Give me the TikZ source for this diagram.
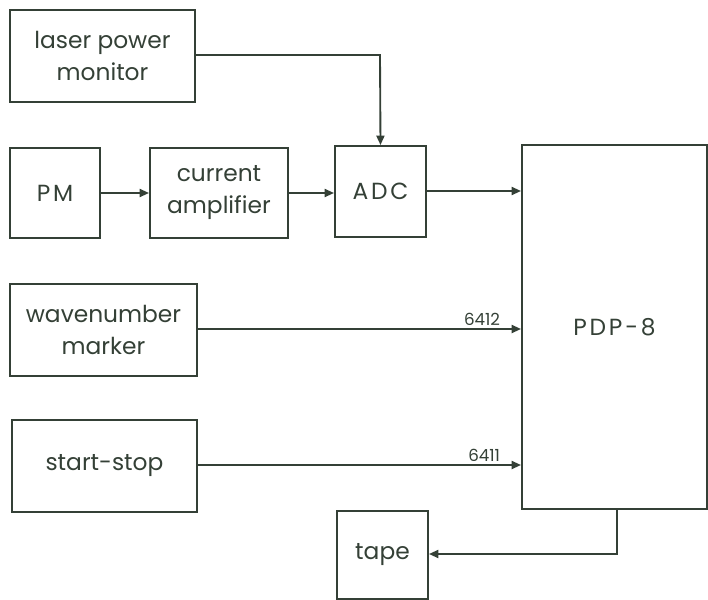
\documentclass[tikz,border=0pt]{standalone}
\usepackage{fontspec}
\setmainfont{Poppins}
\newfontfamily\spaced[LetterSpace=12]{Poppins}
\usetikzlibrary{arrows.meta}
\definecolor{ink}{RGB}{52,64,54}
\begin{document}
\begin{tikzpicture}[x=0.75pt,y=-0.75pt,
  blk/.style={draw=ink,line width=1.5pt,inner sep=0pt,align=center,text=ink,
    font=\fontsize{17.5}{24}\selectfont},
  con/.style={draw=ink,line width=1.4pt,-{Triangle[length=7pt,width=6pt]}},
  lbl/.style={text=ink,font=\fontsize{12.5}{14}\selectfont,inner sep=1pt}]
\useasboundingbox (0,0) rectangle (708,600);
\node[blk,minimum width=138.75pt,minimum height=69pt] (laser) at (102.5,56) {laser power\\monitor};
\node[blk,minimum width=67.5pt,minimum height=67.5pt] (pm) at (55,193) {\spaced PM};
\node[blk,minimum width=103.5pt,minimum height=67.5pt] (amp) at (219,193) {current\\amplifier};
\node[blk,minimum width=68.25pt,minimum height=68.25pt] (adc) at (380.5,191.5) {\spaced ADC};
\node[blk,minimum width=138.75pt,minimum height=273pt] (pdp) at (614.5,327) {\spaced PDP-8};
\node[blk,minimum width=140.25pt,minimum height=69pt] (wave) at (103.5,330) {wavenumber\\marker};
\node[blk,minimum width=138.75pt,minimum height=69pt] (ss) at (104.5,466) {start-stop};
\node[blk,minimum width=68.25pt,minimum height=66pt] (tape) at (382.5,555) {tape};
\coordinate (lc) at (380,55);
\coordinate (tc) at (617,554);
\coordinate (ac) at (0,191);
\draw[con] (laser.east |- lc) -- (lc) -- (adc.north);
\draw[con] (pm.east) -- (amp.west);
\draw[con] (amp.east) -- (amp.east -| adc.west);
\draw[con] (adc.east |- ac) -- (pdp.west |- ac);
\draw[con] (wave.east |- 0,329) -- (pdp.west |- 0,329) node[lbl,above left,xshift=-14pt,yshift=1pt] (n6412) {6412};
\draw[con] (ss.east |- 0,465) -- (pdp.west |- 0,465) node[lbl,above left,xshift=-14pt,yshift=1pt] (n6411) {6411};
\draw[con] (pdp.south -| tc) -- (tc) -- (tc -| tape.east);
\end{tikzpicture}
\end{document}
